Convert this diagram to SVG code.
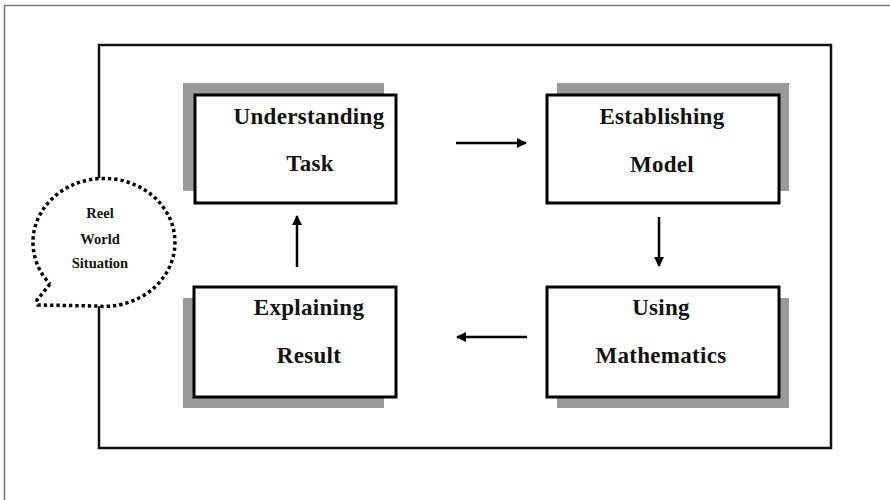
<svg xmlns="http://www.w3.org/2000/svg" width="890" height="500" viewBox="0 0 890 500">
<defs>
<style>
.shadow{fill:#9a9a9a}
.box{fill:#fff;stroke:#000;stroke-width:3}
.lbl{font-weight:bold;font-size:23px;text-anchor:middle;fill:#111;letter-spacing:0.3px}
.small{font-weight:bold;font-size:14.5px;text-anchor:middle;fill:#111}
.conn{stroke:#000;stroke-width:2.5;fill:none}
</style>
<marker id="ah" viewBox="0 0 10 10" refX="9" refY="5" markerWidth="4" markerHeight="4" orient="auto" markerUnits="strokeWidth">
<path d="M0,0 L10,5 L0,10 z" fill="#000"/>
</marker>
</defs>
<rect width="890" height="500" fill="#fff"/>
<path d="M4.5,500 V5.5 H890" fill="none" stroke="#777" stroke-width="1.5"/>
<g id="frame">
<path d="M99,178 V45 H831 V448 H99 V306" fill="none" stroke="#111" stroke-width="2.5"/>
</g>
<g font-family="Liberation Serif, Times New Roman, serif">
<g id="bubble">
<path d="M50,284 L37,300 L38,305 L96,306 A71,64 0 1,0 50,284" fill="#fff" stroke="#000" stroke-width="3.5" stroke-dasharray="3.3 3"/>
<text class="small" x="100" y="218">Reel</text>
<text class="small" x="100" y="244">World</text>
<text class="small" x="100" y="268">Situation</text>
</g>
<g id="understanding">
<rect class="shadow" x="183" y="83" width="201" height="108"/>
<rect class="box" x="195" y="95" width="201" height="108"/>
<text class="lbl" x="309" y="124">Understanding</text>
<text class="lbl" x="310" y="171">Task</text>
</g>
<g id="establishing">
<rect class="shadow" x="557" y="83" width="232" height="108"/>
<rect class="box" x="547" y="95" width="232" height="108"/>
<text class="lbl" x="662" y="124">Establishing</text>
<text class="lbl" x="662" y="172">Model</text>
</g>
<g id="explaining">
<rect class="shadow" x="183" y="298" width="201" height="110"/>
<rect class="box" x="194" y="287" width="202" height="110"/>
<text class="lbl" x="309" y="315">Explaining</text>
<text class="lbl" x="309" y="363">Result</text>
</g>
<g id="using">
<rect class="shadow" x="557" y="298" width="232" height="110"/>
<rect class="box" x="547" y="287" width="232" height="110"/>
<text class="lbl" x="661" y="315">Using</text>
<text class="lbl" x="661" y="363">Mathematics</text>
</g>
</g>
<g id="connectors">
<line class="conn" x1="456" y1="143" x2="526" y2="143" marker-end="url(#ah)"/>
<line class="conn" x1="659" y1="217" x2="659" y2="266" marker-end="url(#ah)"/>
<line class="conn" x1="527" y1="337" x2="457" y2="337" marker-end="url(#ah)"/>
<line class="conn" x1="297" y1="267" x2="297" y2="216" marker-end="url(#ah)"/>
</g>
</svg>
